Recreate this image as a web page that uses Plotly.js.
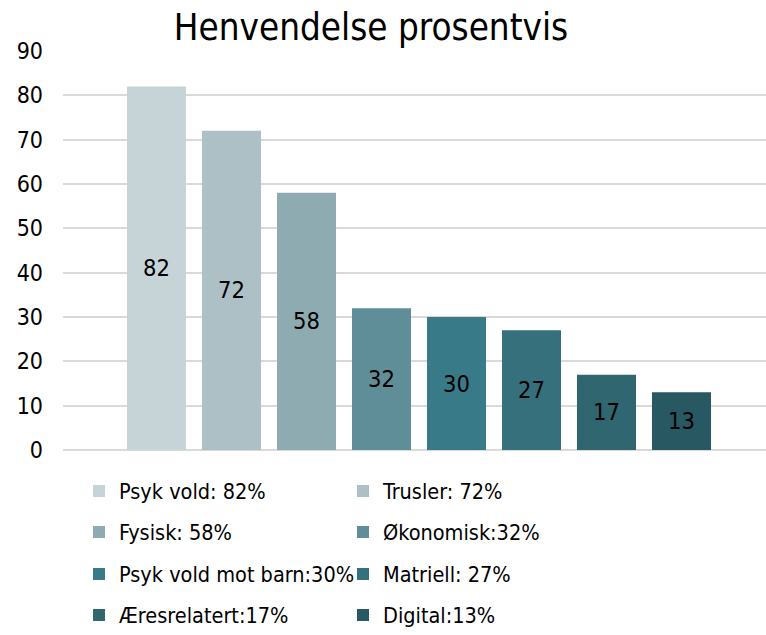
<!DOCTYPE html>
<html>
<head>
<meta charset="utf-8">
<script src="https://cdn.plot.ly/plotly-3.0.1.min.js"></script>
<style>html,body{margin:0;padding:0;background:#fff;}#chart{width:766px;height:635px;}</style>
</head>
<body>
<div id="chart"></div>
<script>
const categories = ["Psyk vold", "Trusler", "Fysisk", "Økonomisk", "Psyk vold mot barn", "Matriell", "Æresrelatert", "Digital"];
const values = [82, 72, 58, 32, 30, 27, 17, 13];
const legendNames = ["Psyk vold: 82%", "Trusler: 72%", "Fysisk: 58%", "Økonomisk:32%", "Psyk vold mot barn:30%", "Matriell: 27%", "Æresrelatert:17%", "Digital:13%"];
const colors = ["#c6d4d8", "#adc0c5", "#8eabb2", "#5f8e99", "#387a87", "#36707c", "#2f6670", "#285862"];
const yTicks = [0, 10, 20, 30, 40, 50, 60, 70, 80, 90];

const FONT = '"DejaVu Sans Condensed", "DejaVu Sans", sans-serif';
const legendIds = ["legend", "legend", "legend2", "legend2", "legend3", "legend3", "legend4", "legend4"];

const traces = categories.map((c, i) => ({
  type: 'bar',
  x: [c],
  y: [values[i]],
  name: legendNames[i],
  legend: legendIds[i],
  marker: {color: colors[i]},
  text: [String(values[i])],
  textposition: 'inside',
  insidetextanchor: 'middle',
  textangle: 0,
  constraintext: 'none',
  textfont: {family: FONT, size: 23.5, color: '#000'},
  hoverinfo: 'skip'
}));

const rowY = [491, 532, 574, 615];
function leg(i) {
  return {
    orientation: 'h',
    xref: 'container', yref: 'container',
    x: 79 / 766, xanchor: 'left',
    y: 1 - rowY[i] / 635, yanchor: 'middle',
    entrywidth: 219, entrywidthmode: 'pixels',
    font: {family: FONT, size: 21.5, color: '#000'},
    bgcolor: 'rgba(0,0,0,0)',
    traceorder: 'normal'
  };
}

const layout = {
  width: 766, height: 635,
  margin: {l: 63, r: 0, t: 51, b: 185},
  paper_bgcolor: '#fff', plot_bgcolor: '#fff',
  barmode: 'overlay',
  bargap: 0.213,
  showlegend: true,
  title: {
    text: 'Henvendelse prosentvis',
    font: {family: FONT, size: 36.5, color: '#000'},
    xref: 'container', yref: 'container',
    x: 371 / 766, xanchor: 'center',
    y: 1 - 27 / 635, yanchor: 'middle'
  },
  xaxis: {
    type: 'category',
    range: [-1.247, 8.127],
    showticklabels: false,
    showgrid: false,
    zeroline: false,
    showline: false,
    ticks: '',
    fixedrange: true
  },
  yaxis: {
    range: [0, 90],
    tickvals: yTicks,
    ticktext: yTicks.map(String),
    showgrid: true,
    gridcolor: '#d9d9d9',
    gridwidth: 2,
    zeroline: true,
    zerolinecolor: '#d9d9d9',
    zerolinewidth: 2,
    showline: false,
    ticks: '',
    ticklabelstandoff: 19,
    tickfont: {family: FONT, size: 23, color: '#000'},
    fixedrange: true
  },
  legend: leg(0),
  legend2: leg(1),
  legend3: leg(2),
  legend4: leg(3)
};

Plotly.newPlot('chart', traces, layout, {displayModeBar: false, staticPlot: true});
</script>
</body>
</html>
